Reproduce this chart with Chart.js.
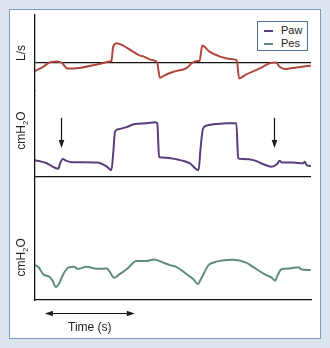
<!DOCTYPE html>
<html>
<head>
<meta charset="utf-8">
<script src="https://cdn.jsdelivr.net/npm/chart.js@4.4.1/dist/chart.umd.min.js"></script>
<style>
  html, body { margin: 0; padding: 0; }
  body { width: 330px; height: 348px; background: #dce4ee; position: relative; overflow: hidden;
         font-family: 'Liberation Sans', Arial, sans-serif; }
  #panel { position: absolute; left: 9px; top: 9px; width: 310px; height: 328px; background: #fff; border: 1px solid #7c9cc6; }
  #chart { position: absolute; left: 0; top: 0; }
  #legend { position: absolute; left: 257px; top: 21px; width: 49px; height: 28px; border: 1px solid #52739f;
            background: #fff; font-size: 11px; color: #222; }
  #legend .item { position: absolute; left: 6px; height: 13px; line-height: 13px; white-space: nowrap; }
  #legend .swatch { display: inline-block; width: 9px; height: 2px; vertical-align: middle; margin-right: 8px; }
</style>
</head>
<body>
<div id="panel"></div>
<canvas id="chart" width="330" height="348"></canvas>
<div id="legend"></div>
<script>
// time in seconds, flow in L/s, pressures in cmH2O
const flowTime = [0, 0.09, 0.17, 0.24, 0.30, 0.36, 0.43, 0.69, 0.76, 0.83, 0.85, 0.87, 0.91, 0.98, 1.09, 1.17, 1.20, 1.28, 1.35, 1.36, 1.39, 1.43, 1.54, 1.69, 1.74, 1.80, 1.83, 1.86, 1.94, 2.06, 2.17, 2.24, 2.25, 2.27, 2.35, 2.50, 2.61, 2.68, 2.72, 2.78, 2.91, 3.06]
const flowValues = [-0.40, -0.19, 0.04, 0.07, 0.00, -0.27, -0.27, -0.07, 0.00, 0.07, 0.10, 0.82, 0.99, 0.87, 0.57, 0.37, 0.34, 0.17, 0.07, 0.00, -0.74, -0.64, -0.44, -0.24, -0.02, 0.10, 0.10, 0.87, 0.57, 0.32, 0.20, 0.14, 0.00, -0.77, -0.57, -0.27, -0.02, 0.02, -0.19, -0.30, -0.22, -0.14]

const pawTime = [0, 0.13, 0.22, 0.26, 0.28, 0.31, 0.35, 0.41, 0.69, 0.80, 0.85, 0.87, 0.89, 0.93, 1.02, 1.11, 1.24, 1.34, 1.36, 1.38, 1.41, 1.57, 1.72, 1.82, 1.84, 1.87, 1.93, 2.02, 2.13, 2.24, 2.26, 2.31, 2.43, 2.54, 2.63, 2.69, 2.72, 2.75, 2.87, 2.98, 3.00, 3.02, 3.06]
const pawValues = [4.9, 4.0, 2.7, 2.4, 4.0, 5.2, 4.7, 4.3, 4.2, 3.0, 2.0, 6.9, 13.2, 13.9, 14.5, 15.4, 15.6, 15.9, 15.6, 5.9, 5.7, 5.2, 4.0, 2.0, 7.9, 14.2, 15.1, 15.4, 15.6, 15.6, 5.4, 5.2, 4.9, 3.7, 3.0, 3.7, 4.7, 4.2, 4.2, 4.0, 4.4, 3.5, 3.2]

const pesTime = [0, 0.04, 0.09, 0.17, 0.20, 0.23, 0.27, 0.31, 0.37, 0.43, 0.48, 0.57, 0.69, 0.80, 0.83, 0.88, 0.94, 1.02, 1.13, 1.24, 1.32, 1.43, 1.50, 1.57, 1.70, 1.76, 1.81, 1.85, 1.93, 1.98, 2.20, 2.35, 2.43, 2.57, 2.63, 2.67, 2.70, 2.74, 2.83, 2.93, 2.96, 3.06]
const pesValues = [8.5, 8.0, 6.3, 5.5, 4.5, 3.2, 4.1, 6.1, 7.9, 8.1, 7.6, 8.1, 7.6, 7.7, 6.9, 5.4, 6.3, 7.5, 9.5, 9.5, 9.9, 9.1, 8.5, 8.1, 6.1, 5.1, 3.9, 5.3, 8.5, 9.1, 9.8, 9.1, 8.0, 6.1, 5.5, 4.7, 6.1, 7.5, 7.7, 8.0, 7.5, 7.3]

const seriesNames = ['Flow', 'Paw', 'Pes']
const axisTitles = ['L/s', 'cmH₂O', 'cmH₂O']
const arrowTimes = [0.29, 2.66]
const timeBar = [0.11, 1.11]
const timeLabel = 'Time (s)'

const toPoints = (t, v) => t.map((x, i) => ({ x, y: v[i] }))
const FONT = '"Liberation Sans", Arial, sans-serif'

// draws rotated axis titles, the two marker arrows and the time scale bar
const annotate = {
  id: 'annotate',
  afterDatasetsDraw(chart, args, opts) {
    const { ctx, scales } = chart
    ctx.save()
    ctx.fillStyle = '#1e1e1e'
    ctx.strokeStyle = '#111'

    opts.titles.forEach(([axis, value], i) => {
      const y = scales[axis].getPixelForValue(value)
      const parts = axisTitles[i].split(/(₂)/).filter(s => s)
      ctx.save()
      ctx.translate(21, y)
      ctx.rotate(-Math.PI / 2)
      let total = 0
      parts.forEach(s => {
        ctx.font = (s === '₂' ? '8px ' : '12px ') + FONT
        total += ctx.measureText(s === '₂' ? '2' : s).width
      })
      let cx = -total / 2
      parts.forEach(s => {
        const sub = s === '₂'
        ctx.font = (sub ? '8px ' : '12px ') + FONT
        const txt = sub ? '2' : s
        ctx.fillText(txt, cx, sub ? 7 : 4.3)
        cx += ctx.measureText(txt).width
      })
      ctx.restore()
    })

    // downward arrows over the Paw trace
    ctx.lineWidth = 1.2
    arrowTimes.forEach(t => {
      const x = Math.round(scales.x.getPixelForValue(t)) + 0.5
      const y0 = scales.yPaw.getPixelForValue(opts.arrowFrom)
      const y1 = scales.yPaw.getPixelForValue(opts.arrowTo)
      ctx.beginPath()
      ctx.moveTo(x, y0)
      ctx.lineTo(x, y1 - 6)
      ctx.stroke()
      ctx.beginPath()
      ctx.moveTo(x, y1)
      ctx.lineTo(x - 2.8, y1 - 8)
      ctx.lineTo(x + 2.8, y1 - 8)
      ctx.closePath()
      ctx.fill()
    })

    // time scale bar
    const xa = scales.x.getPixelForValue(timeBar[0])
    const xb = scales.x.getPixelForValue(timeBar[1])
    const yb = chart.chartArea.bottom + 13.5
    ctx.beginPath()
    ctx.moveTo(xa + 5, yb)
    ctx.lineTo(xb - 5, yb)
    ctx.stroke()
    ;[[xa, 1], [xb, -1]].forEach(([x, d]) => {
      ctx.beginPath()
      ctx.moveTo(x, yb)
      ctx.lineTo(x + d * 8, yb - 2.8)
      ctx.lineTo(x + d * 8, yb + 2.8)
      ctx.closePath()
      ctx.fill()
    })
    ctx.font = '12px ' + FONT
    ctx.textAlign = 'center'
    ctx.textBaseline = 'middle'
    ctx.fillText(timeLabel, (xa + xb) / 2, yb + 14)
    ctx.restore()
  }
}

const hiddenTicks = { display: false }
const zeroOnly = scale => { scale.ticks = [{ value: 0 }] }

const chart = new Chart('chart', {
  type: 'line',
  data: {
    datasets: [
      { label: seriesNames[0], data: toPoints(flowTime, flowValues), yAxisID: 'yFlow', borderColor: '#b0463d' },
      { label: seriesNames[1], data: toPoints(pawTime, pawValues), yAxisID: 'yPaw', borderColor: '#5b3c7c' },
      { label: seriesNames[2], data: toPoints(pesTime, pesValues), yAxisID: 'yPes', borderColor: '#5e8e7b' }
    ]
  },
  options: {
    responsive: false,
    animation: false,
    layout: { padding: { left: 35, right: 19, top: 15, bottom: 48 } },
    elements: {
      point: { radius: 0 },
      line: { borderWidth: 2, cubicInterpolationMode: 'monotone', borderJoinStyle: 'round', borderCapStyle: 'round' }
    },
    plugins: {
      legend: { display: false },
      tooltip: { enabled: false },
      annotate: {
        titles: [['yFlow', 0.5], ['yPaw', 13.5], ['yPes', 10.4]],
        arrowFrom: 17.2,
        arrowTo: 8.4
      }
    },
    scales: {
      x: {
        type: 'linear', min: 0, max: 3.07,
        ticks: hiddenTicks,
        grid: { display: false, drawTicks: false },
        border: { color: '#111', width: 1.3 }
      },
      yPes: {
        stack: 'traces', stackWeight: 123, position: 'left', min: 0, max: 30,
        ticks: hiddenTicks,
        grid: { display: false, drawTicks: false },
        border: { color: '#111', width: 1.3 }
      },
      yPaw: {
        stack: 'traces', stackWeight: 86, position: 'left', min: 0, max: 25,
        afterBuildTicks: zeroOnly,
        ticks: hiddenTicks,
        grid: { color: '#111', lineWidth: 1.3, drawTicks: false },
        border: { color: '#111', width: 1.3 }
      },
      yFlow: {
        stack: 'traces', stackWeight: 76, position: 'left', min: -1.4, max: 2.4,
        afterBuildTicks: zeroOnly,
        ticks: hiddenTicks,
        grid: { color: '#111', lineWidth: 1.3, drawTicks: false },
        border: { color: '#111', width: 1.3 }
      }
    }
  },
  plugins: [annotate]
})

// boxed legend with the two pressure traces only
const legend = document.getElementById('legend')
chart.data.datasets.slice(1).forEach((ds, i) => {
  const item = document.createElement('div')
  item.className = 'item'
  item.style.top = (1.5 + i * 13) + 'px'
  const sw = document.createElement('span')
  sw.className = 'swatch'
  sw.style.background = ds.borderColor
  item.appendChild(sw)
  item.appendChild(document.createTextNode(ds.label))
  legend.appendChild(item)
})
</script>
</body>
</html>
